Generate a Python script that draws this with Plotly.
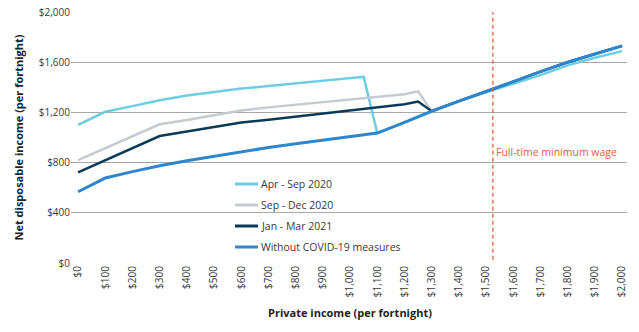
import plotly.graph_objects as go

# ---- data ----
x_apr = [0, 100, 200, 300, 400, 500, 600, 700, 800, 900, 1000, 1050, 1100,
         1200, 1300, 1400, 1500, 1600, 1700, 1800, 1900, 2000]
y_apr = [1100, 1205, 1250, 1297, 1335, 1363, 1390, 1410, 1430, 1448, 1468, 1483, 1035,
         1120, 1210, 1290, 1360, 1428, 1497, 1575, 1635, 1688]

x_sep = [0, 100, 200, 300, 400, 500, 600, 700, 800, 900, 1000, 1100, 1200, 1250,
         1300, 1400, 1500, 1600, 1700, 1800, 1900, 2000]
y_sep = [820, 915, 1010, 1105, 1140, 1178, 1215, 1240, 1260, 1283, 1303, 1322, 1345, 1368,
         1210, 1290, 1365, 1445, 1525, 1600, 1665, 1730]

x_jan = [0, 100, 200, 300, 400, 500, 600, 700, 800, 900, 1000, 1100, 1200, 1250,
         1300, 1400, 1500, 1600, 1700, 1800, 1900, 2000]
y_jan = [722, 820, 915, 1012, 1048, 1082, 1120, 1142, 1166, 1192, 1215, 1237, 1265, 1287,
         1210, 1290, 1365, 1445, 1525, 1600, 1665, 1730]

x_base = [0, 100, 200, 300, 400, 500, 600, 700, 800, 900, 1000, 1100,
          1200, 1300, 1400, 1500, 1600, 1700, 1800, 1900, 2000]
y_base = [568, 677, 728, 775, 815, 850, 890, 920, 950, 980, 1005, 1035,
          1120, 1210, 1290, 1365, 1445, 1525, 1600, 1665, 1730]

series_names = ["Apr - Sep 2020", "Sep - Dec 2020", "Jan - Mar 2021", "Without COVID-19 measures"]
series_colors = ["#6DCDE3", "#C5CBD2", "#0B3A56", "#2F86CC"]
series_widths = [2.5, 2.5, 2.5, 3]

min_wage = 1525
min_wage_label = "Full-time minimum wage"

x_ticks = list(range(0, 2001, 100))
x_tick_labels = ["$" + format(v, ",") for v in x_ticks]
y_ticks = [0, 400, 800, 1200, 1600, 2000]
y_tick_labels = ["$" + format(v, ",") for v in y_ticks]

FONT = "Open Sans"
TXT = "#3a3a3a"

fig = go.Figure()
for xs, ys, n, c, w in zip([x_apr, x_sep, x_jan, x_base], [y_apr, y_sep, y_jan, y_base],
                           series_names, series_colors, series_widths):
    fig.add_trace(go.Scatter(x=xs, y=ys, mode="lines", name=n,
                             line=dict(color=c, width=w), showlegend=False))

# minimum wage line
fig.add_shape(type="line", xref="x", yref="y", x0=min_wage, x1=min_wage, y0=-30, y1=2010,
              line=dict(color="#E0603C", width=1.3, dash="4px,3px"))
fig.add_annotation(x=min_wage, y=(263 - 152) / 251 * 2000, xref="x", yref="y",
                   text=min_wage_label, showarrow=False, xanchor="left", yanchor="middle",
                   xshift=1, font=dict(family=FONT, size=10.5, color="#E0603C"))

# manual legend
L, W = 71, 556
def px(xp):
    return (xp - L) / W
def py(yp):
    return (263 - yp) / 251
for i, (n, c) in enumerate(zip(series_names, series_colors)):
    yy = 184 + i * 21
    fig.add_shape(type="line", xref="paper", yref="paper", x0=px(235), x1=px(258),
                  y0=py(yy), y1=py(yy), line=dict(color=c, width=3))
    fig.add_annotation(xref="paper", yref="paper", x=px(258.5), y=py(yy), text=n,
                       showarrow=False, xanchor="left", yanchor="middle",
                       font=dict(family=FONT, size=10.5, color=TXT))

# axis titles as annotations for exact placement
fig.add_annotation(xref="paper", yref="paper", x=px(350), y=py(312), text="<b>Private income (per fortnight)</b>",
                   showarrow=False, xanchor="center", yanchor="middle",
                   font=dict(family=FONT, size=11, color="#222"))
fig.add_annotation(xref="paper", yref="paper", x=px(18), y=0.5, text="<b>Net disposable income (per fortnight)</b>",
                   showarrow=False, textangle=-90, xanchor="center", yanchor="middle",
                   font=dict(family=FONT, size=11, color="#222"))

fig.update_layout(
    width=639, height=332,
    margin=dict(l=71, r=12, t=12, b=69, autoexpand=False),
    paper_bgcolor="white", plot_bgcolor="white",
    font=dict(family=FONT, size=10, color=TXT),
    xaxis=dict(range=[-26, 2018], tickmode="array", tickvals=x_ticks, ticktext=x_tick_labels,
               tickangle=-90, showgrid=False, zeroline=False, showline=False, automargin=False,
               tickfont=dict(size=10, color=TXT), ticks=""),
    yaxis=dict(range=[0, 2000], tickmode="array", tickvals=y_ticks, ticktext=y_tick_labels,
               showgrid=True, gridcolor="#A8A8A8", gridwidth=1.3, zeroline=False, automargin=False,
               showline=False, ticks="", tickfont=dict(size=10, color=TXT)),
)

fig.write_html("out.html")
